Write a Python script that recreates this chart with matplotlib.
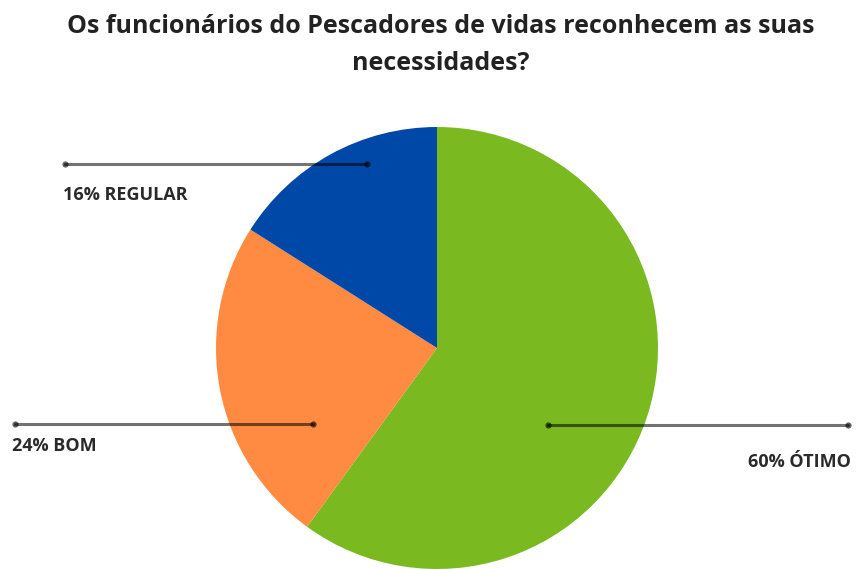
import matplotlib
matplotlib.use("Agg")
import matplotlib.pyplot as plt

# respostas da pesquisa
categorias = ["ÓTIMO", "BOM", "REGULAR"]
percentuais = [60, 24, 16]
cores = ["#7aba20", "#ff8b42", "#0048a8"]

titulo = "Os funcionários do Pescadores de vidas reconhecem as suas\nnecessidades?"

W, H = 856, 569
fig = plt.figure(figsize=(W / 100, H / 100), dpi=100)
fig.patch.set_facecolor("white")

# pizza: centro (437, 348) px, raio 221 px
cx, cy, r = 437, 348, 221
ax = fig.add_axes([(cx - r) / W, (H - cy - r) / H, 2 * r / W, 2 * r / H])
ax.pie(percentuais, colors=cores, startangle=90, counterclock=False,
       radius=1.0, wedgeprops=dict(linewidth=0))
ax.set_xlim(-1, 1)
ax.set_ylim(-1, 1)
ax.set_aspect("equal")
ax.axis("off")

# camada em pixels para as linhas de chamada e textos
ov = fig.add_axes([0, 0, 1, 1], zorder=5)
ov.set_xlim(0, W)
ov.set_ylim(H, 0)
ov.axis("off")

# (x_externo, x_interno, y_linha, x_texto, y_texto, alinhamento)
chamadas = {
    "REGULAR": (65, 367, 164, 63, 195, "left"),
    "BOM": (15, 313, 424, 12, 446, "left"),
    "ÓTIMO": (848, 548, 425, 851, 462, "right"),
}

for cat, pct in zip(categorias, percentuais):
    x0, x1, y, tx, ty, ha = chamadas[cat]
    ov.plot([x0, x1], [y, y], color="black", alpha=0.55, lw=2.2,
            solid_capstyle="round")
    ov.plot([x0, x1], [y, y], "o", color="black", alpha=0.6, ms=4.5, mew=0)
    ov.text(tx, ty, f"{pct}% {cat}", ha=ha, va="center", fontsize=13,
            fontweight="bold", family=["Open Sans", "DejaVu Sans"],
            color="#2a2a2a")

ov.text(441, 45, titulo, ha="center", va="center", fontsize=18,
        fontweight="bold", family=["Open Sans", "DejaVu Sans"],
        color="#222222", linespacing=1.6)

fig.savefig("out.png", dpi=100, facecolor="white")
